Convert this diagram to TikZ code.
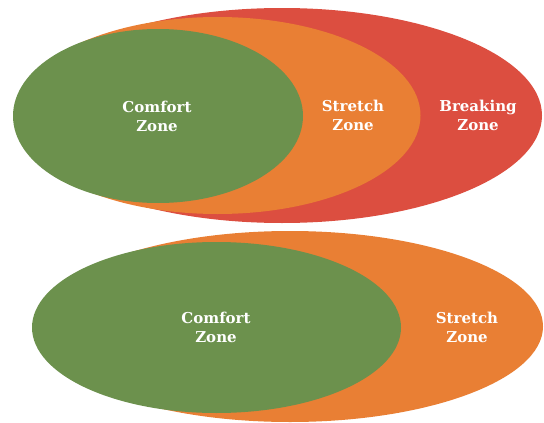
\documentclass[tikz,border=0pt]{standalone}
\usepackage{fontspec}
\setmainfont{DejaVu Serif}
\usepackage{tikz}
\definecolor{zonegreen}{RGB}{108,145,77}
\definecolor{zoneorange}{RGB}{233,127,52}
\definecolor{zonered}{RGB}{220,78,64}
\tikzset{
  zonetext/.style={text=white, align=center, inner sep=0pt,
    font=\fontsize{15}{19}\selectfont\bfseries}
}
\newcommand{\drawzone}[5]{
  \fill[#5] (#1,#2) ellipse [x radius=#3, y radius=#4];
}
\newcommand{\zonelabel}[4]{
  \node[zonetext] (#1) at (#2,#3) {#4\\Zone};
}

\begin{document}
\begin{tikzpicture}[x=1pt,y=-1pt]
  \useasboundingbox (0,0) rectangle (544,423);
  % upper picture: three zones
  \drawzone{282}{115.5}{260}{107.5}{zonered}
  \drawzone{217.5}{115.5}{203}{98.5}{zoneorange}
  \drawzone{158}{116}{145}{87}{zonegreen}
  \zonelabel{comfortA}{157}{116}{Comfort}
  \zonelabel{stretchA}{353}{115}{Stretch}
  \zonelabel{breakingA}{478}{115}{Breaking}
  % lower picture: two zones
  \drawzone{290}{326.5}{253}{95.5}{zoneorange}
  \drawzone{216.5}{327.5}{184.5}{85.5}{zonegreen}
  \zonelabel{comfortB}{216}{327}{Comfort}
  \zonelabel{stretchB}{467}{327}{Stretch}
\end{tikzpicture}
\end{document}
